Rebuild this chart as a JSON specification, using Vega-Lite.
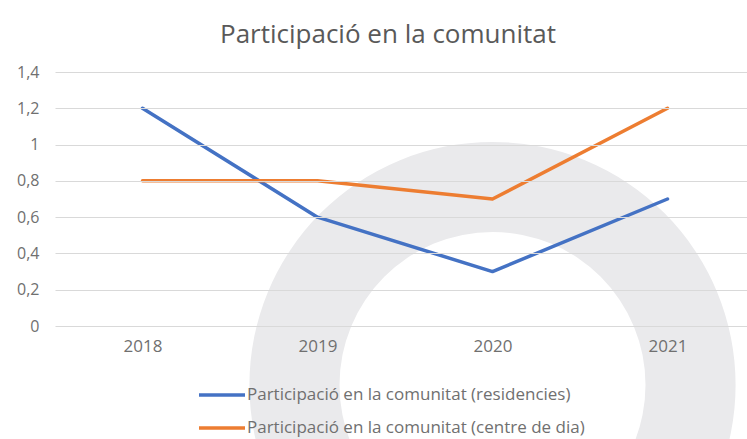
{
  "$schema": "https://vega.github.io/schema/vega-lite/v6.json",
  "width": 692,
  "height": 254,
  "autosize": {"type": "none"},
  "padding": {"left": 55, "top": 72, "right": 0, "bottom": 113},
  "background": "white",
  "config": {
    "locale": {"number": {"decimal": ",", "thousands": ".", "grouping": [3], "currency": ["", " €"]}},
    "view": {"stroke": null},
    "font": "Open Sans"
  },
  "title": {
    "text": "Participació en la comunitat",
    "fontSize": 26,
    "font": "Open Sans",
    "fontWeight": "normal",
    "color": "#595959",
    "anchor": "middle",
    "dx": -13,
    "offset": 16
  },
  "datasets": {
    "ring": [{"year": "2020", "value": -0.325}],
    "series": [
      {"year": "2018", "value": 1.2, "serie": "Participació en la comunitat (residencies)"},
      {"year": "2019", "value": 0.6, "serie": "Participació en la comunitat (residencies)"},
      {"year": "2020", "value": 0.3, "serie": "Participació en la comunitat (residencies)"},
      {"year": "2021", "value": 0.7, "serie": "Participació en la comunitat (residencies)"},
      {"year": "2018", "value": 0.8, "serie": "Participació en la comunitat (centre de dia)"},
      {"year": "2019", "value": 0.8, "serie": "Participació en la comunitat (centre de dia)"},
      {"year": "2020", "value": 0.7, "serie": "Participació en la comunitat (centre de dia)"},
      {"year": "2021", "value": 1.2, "serie": "Participació en la comunitat (centre de dia)"}
    ]
  },
  "encoding": {
    "x": {
      "field": "year", "type": "ordinal",
      "scale": {"type": "point", "domain": ["2018", "2019", "2020", "2021"], "range": [0, 700], "padding": 0.5},
      "axis": {"title": null, "domain": false, "ticks": false, "grid": false, "values": ["2018", "2019", "2020", "2021"], "labelAngle": 0, "labelAlign": "center", "labelOverlap": false, "labelBound": false, "labelFlush": false, "labelPadding": 12, "labelFontSize": 17, "labelColor": "#707070", "labelFont": "Open Sans", "zindex": 1}
    },
    "y": {
      "field": "value", "type": "quantitative",
      "scale": {"domain": [0, 1.4], "nice": false, "zero": false},
      "axis": {"title": null, "domain": false, "ticks": false, "tickSize": 0, "grid": true, "gridColor": "#d9d9d9", "gridWidth": 1, "values": [0, 0.2, 0.4, 0.6, 0.8, 1, 1.2, 1.4], "format": "~g", "labelOverlap": false, "labelBound": false, "labelFlush": false, "labelPadding": 16, "labelFontSize": 16, "labelColor": "#707070", "labelFont": "Open Sans", "zindex": 1}
    }
  },
  "layer": [
    {
      "data": {"name": "ring"},
      "mark": {"type": "arc", "radius": 243, "radius2": 153, "theta": 0, "theta2": 6.2832, "color": "#eaeaec", "clip": false}
    },
    {
      "data": {"name": "series"},
      "mark": {"type": "line", "strokeWidth": 3.5, "strokeCap": "round", "strokeJoin": "round"},
      "encoding": {
        "color": {
          "field": "serie", "type": "nominal",
          "scale": {"domain": ["Participació en la comunitat (residencies)", "Participació en la comunitat (centre de dia)"], "range": ["#4472C4", "#ED7D31"]},
          "legend": {"orient": "none", "legendX": 142, "legendY": 298, "direction": "vertical", "title": null, "symbolType": "stroke", "symbolSize": 2116, "symbolStrokeWidth": 3.5, "labelFontSize": 17, "labelColor": "#707070", "labelFont": "Open Sans", "labelOffset": 0, "labelLimit": 600, "rowPadding": -9}
        }
      }
    }
  ]
}
